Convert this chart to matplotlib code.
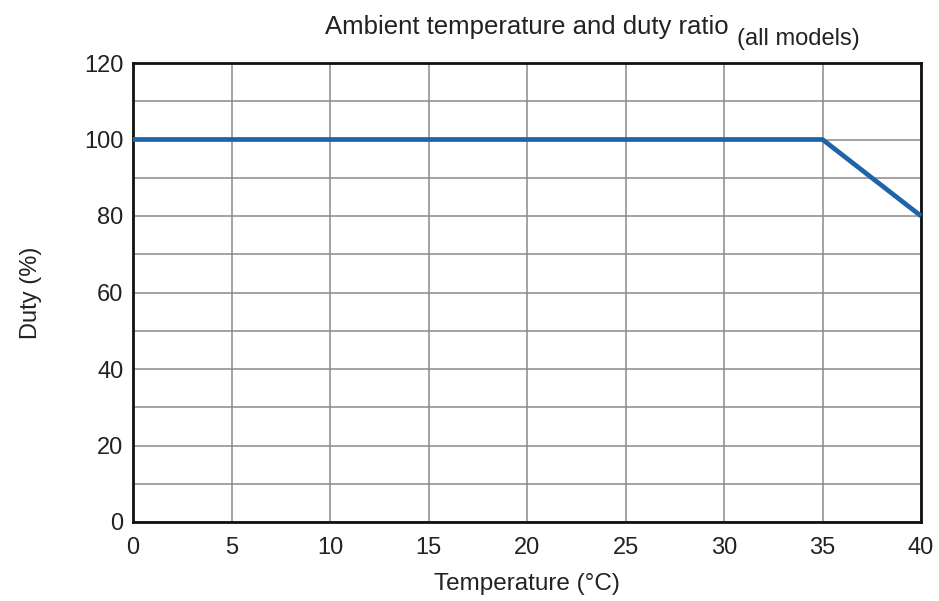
import matplotlib
matplotlib.use("Agg")
import matplotlib.pyplot as plt
import numpy as np

temperature = [0, 35, 40]
duty = [100, 100, 80]
x_ticks = [0, 5, 10, 15, 20, 25, 30, 35, 40]
y_ticks = [0, 20, 40, 60, 80, 100, 120]

plt.rcParams['font.family'] = ['Liberation Sans', 'DejaVu Sans']

fig = plt.figure(figsize=(9.39, 6.01), dpi=100)
ax = fig.add_axes([133/939, 79/601, (921-133)/939, (522-63)/601])

ax.plot(temperature, duty, color='#1d64a8', lw=3.4, solid_capstyle='butt', zorder=3, clip_on=False)
ax.set_xlim(0, 40)
ax.set_ylim(0, 120)
ax.set_xticks(x_ticks)
ax.set_yticks(y_ticks)
ax.set_yticks(np.arange(10, 120, 20), minor=True)
ax.grid(True, which='both', color='#8a8a8a', lw=1.1)
ax.tick_params(which='both', length=0, labelsize=17, colors='#222222')
ax.tick_params(axis='x', pad=11)
ax.tick_params(axis='y', pad=7)
for s in ax.spines.values():
    s.set_linewidth(2)
    s.set_color('#111111')

ax.set_xlabel('Temperature (°C)', fontsize=17.5, color='#222222', labelpad=10)
ax.set_ylabel('Duty (%)', fontsize=17, color='#222222', labelpad=30)

fig.text(325/939, 1-34/601, 'Ambient temperature and duty ratio', ha='left', va='baseline', fontsize=18.5, color='#222222')
fig.text(737/939, 1-45/601, '(all models)', ha='left', va='baseline', fontsize=17, color='#222222')

fig.savefig('out.png', dpi=100)
